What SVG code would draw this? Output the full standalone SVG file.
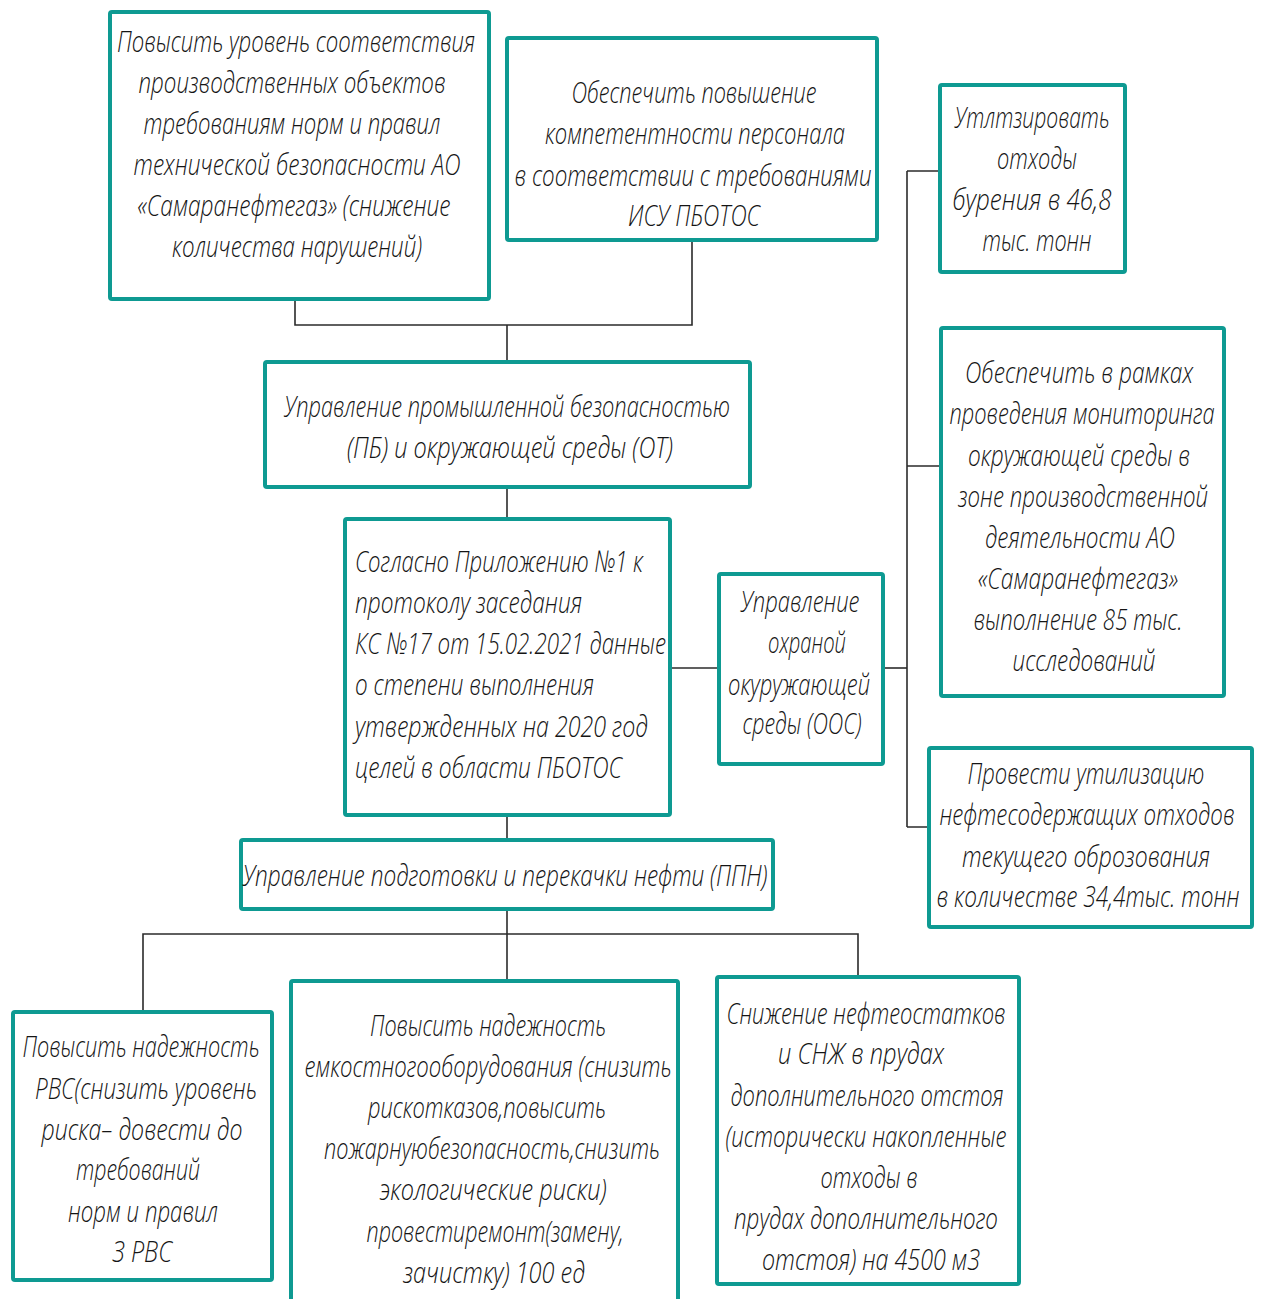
<svg xmlns="http://www.w3.org/2000/svg" width="1261" height="1299" viewBox="0 0 1261 1299">
<style>
.box{fill:#fff;stroke:#0e9a92;stroke-width:4}
.con{fill:none;stroke:#2b2b2b;stroke-width:1.6}
text{font-family:"Open Sans","Liberation Sans",sans-serif;font-weight:300;font-style:italic;font-size:30px;fill:#151515;text-anchor:middle}
text.l{text-anchor:start}
</style>
<rect width="1261" height="1299" fill="#fff"/>
<g id="connectors">
<path class="con" d="M295 301V325H692V242"/>
<path class="con" d="M507 325V360"/>
<path class="con" d="M507 489V517"/>
<path class="con" d="M672 668H717"/>
<path class="con" d="M885 668H907"/>
<path class="con" d="M907 171V827"/>
<path class="con" d="M907 171H938M907 466H939M907 827H927"/>
<path class="con" d="M507 817V838"/>
<path class="con" d="M507 911V979"/>
<path class="con" d="M143 1010V934H858V975"/>
</g>
<g id="nodeA">
<rect class="box" x="110" y="12" width="379" height="287" rx="2"/>
<text x="296" y="52" textLength="358" lengthAdjust="spacingAndGlyphs">Повысить уровень соответствия</text>
<text x="292" y="93" textLength="307" lengthAdjust="spacingAndGlyphs">производственных объектов</text>
<text x="292" y="134" textLength="297" lengthAdjust="spacingAndGlyphs">требованиям норм и правил</text>
<text x="297" y="175" textLength="327" lengthAdjust="spacingAndGlyphs">технической безопасности АО</text>
<text x="294" y="216" textLength="313" lengthAdjust="spacingAndGlyphs">«Самаранефтегаз» (снижение</text>
<text x="297" y="257" textLength="250" lengthAdjust="spacingAndGlyphs">количества нарушений)</text>
</g>
<g id="nodeB">
<rect class="box" x="507" y="38" width="370" height="202" rx="2"/>
<text x="694" y="103" textLength="245" lengthAdjust="spacingAndGlyphs">Обеспечить повышение</text>
<text x="695" y="144" textLength="300" lengthAdjust="spacingAndGlyphs">компетентности персонала</text>
<text x="693" y="186" textLength="357" lengthAdjust="spacingAndGlyphs">в соответствии с требованиями</text>
<text x="694" y="226" textLength="132" lengthAdjust="spacingAndGlyphs">ИСУ ПБОТОС</text>
</g>
<g id="nodeC">
<rect class="box" x="940" y="85" width="185" height="187" rx="2"/>
<text x="1032" y="128" textLength="155" lengthAdjust="spacingAndGlyphs">Утлтзировать</text>
<text x="1037" y="169" textLength="80" lengthAdjust="spacingAndGlyphs">отходы</text>
<text x="1032" y="210" textLength="159" lengthAdjust="spacingAndGlyphs">бурения в 46,8</text>
<text x="1037" y="251" textLength="109" lengthAdjust="spacingAndGlyphs">тыс. тонн</text>
</g>
<g id="nodeD">
<rect class="box" x="941" y="328" width="283" height="368" rx="2"/>
<text x="1079" y="383" textLength="228" lengthAdjust="spacingAndGlyphs">Обеспечить в рамках</text>
<text x="1082" y="424" textLength="265" lengthAdjust="spacingAndGlyphs">проведения мониторинга</text>
<text x="1079" y="466" textLength="222" lengthAdjust="spacingAndGlyphs">окружающей среды в</text>
<text x="1083" y="507" textLength="250" lengthAdjust="spacingAndGlyphs">зоне производственной</text>
<text x="1080" y="548" textLength="190" lengthAdjust="spacingAndGlyphs">деятельности АО</text>
<text x="1078" y="589" textLength="200" lengthAdjust="spacingAndGlyphs">«Самаранефтегаз»</text>
<text x="1078" y="630" textLength="209" lengthAdjust="spacingAndGlyphs">выполнение 85 тыс.</text>
<text x="1084" y="671" textLength="143" lengthAdjust="spacingAndGlyphs">исследований</text>
</g>
<g id="nodeE">
<rect class="box" x="265" y="362" width="485" height="125" rx="2"/>
<text x="507" y="417" textLength="446" lengthAdjust="spacingAndGlyphs">Управление промышленной безопасностью</text>
<text x="510" y="458" textLength="326" lengthAdjust="spacingAndGlyphs">(ПБ) и окружающей среды (ОТ)</text>
</g>
<g id="nodeF">
<rect class="box" x="345" y="519" width="325" height="296" rx="2"/>
<text class="l" x="355" y="572" textLength="288" lengthAdjust="spacingAndGlyphs">Согласно Приложению №1 к</text>
<text class="l" x="355" y="613" textLength="227" lengthAdjust="spacingAndGlyphs">протоколу заседания</text>
<text class="l" x="355" y="654" textLength="311" lengthAdjust="spacingAndGlyphs">КС №17 от 15.02.2021 данные</text>
<text class="l" x="355" y="695" textLength="239" lengthAdjust="spacingAndGlyphs">о степени выполнения</text>
<text class="l" x="355" y="737" textLength="293" lengthAdjust="spacingAndGlyphs">утвержденных на 2020 год</text>
<text class="l" x="355" y="778" textLength="267" lengthAdjust="spacingAndGlyphs">целей в области ПБОТОС</text>
</g>
<g id="nodeG">
<rect class="box" x="719" y="574" width="164" height="190" rx="2"/>
<text x="800" y="612" textLength="119" lengthAdjust="spacingAndGlyphs">Управление</text>
<text x="807" y="653" textLength="78" lengthAdjust="spacingAndGlyphs">охраной</text>
<text x="799" y="695" textLength="142" lengthAdjust="spacingAndGlyphs">окуружающей</text>
<text x="802" y="734" textLength="119" lengthAdjust="spacingAndGlyphs">среды (ООС)</text>
</g>
<g id="nodeH">
<rect class="box" x="929" y="748" width="323" height="179" rx="2"/>
<text x="1086" y="784" textLength="237" lengthAdjust="spacingAndGlyphs">Провести утилизацию</text>
<text x="1087" y="825" textLength="295" lengthAdjust="spacingAndGlyphs">нефтесодержащих отходов</text>
<text x="1086" y="867" textLength="248" lengthAdjust="spacingAndGlyphs">текущего оброзования</text>
<text x="1088" y="907" textLength="303" lengthAdjust="spacingAndGlyphs">в количестве 34,4тыс. тонн</text>
</g>
<g id="nodeI">
<rect class="box" x="241" y="840" width="532" height="69" rx="2"/>
<text x="505" y="886" textLength="525" lengthAdjust="spacingAndGlyphs">Управление подготовки и перекачки нефти (ППН)</text>
</g>
<g id="nodeJ">
<rect class="box" x="13" y="1012" width="259" height="268" rx="2"/>
<text x="141" y="1057" textLength="237" lengthAdjust="spacingAndGlyphs">Повысить надежность</text>
<text x="146" y="1099" textLength="222" lengthAdjust="spacingAndGlyphs">РВС(снизить уровень</text>
<text x="142" y="1140" textLength="201" lengthAdjust="spacingAndGlyphs">риска– довести до</text>
<text x="138" y="1180" textLength="124" lengthAdjust="spacingAndGlyphs">требований</text>
<text x="143" y="1222" textLength="150" lengthAdjust="spacingAndGlyphs">норм и правил</text>
<text x="142" y="1262" textLength="60" lengthAdjust="spacingAndGlyphs">3 РВС</text>
</g>
<g id="nodeK">
<rect class="box" x="291" y="981" width="387" height="330" rx="2"/>
<text x="488" y="1036" textLength="236" lengthAdjust="spacingAndGlyphs">Повысить надежность</text>
<text x="488" y="1077" textLength="367" lengthAdjust="spacingAndGlyphs">емкостногооборудования (снизить</text>
<text x="487" y="1118" textLength="238" lengthAdjust="spacingAndGlyphs">рискотказов,повысить</text>
<text x="492" y="1159" textLength="336" lengthAdjust="spacingAndGlyphs">пожарнуюбезопасность,снизить</text>
<text x="493" y="1200" textLength="227" lengthAdjust="spacingAndGlyphs">экологические риски)</text>
<text x="495" y="1242" textLength="257" lengthAdjust="spacingAndGlyphs">провестиремонт(замену,</text>
<text x="494" y="1283" textLength="182" lengthAdjust="spacingAndGlyphs">зачистку) 100 ед</text>
</g>
<g id="nodeL">
<rect class="box" x="717" y="977" width="302" height="307" rx="2"/>
<text x="866" y="1024" textLength="279" lengthAdjust="spacingAndGlyphs">Снижение нефтеостатков</text>
<text x="861" y="1064" textLength="166" lengthAdjust="spacingAndGlyphs">и СНЖ в прудах</text>
<text x="867" y="1106" textLength="273" lengthAdjust="spacingAndGlyphs">дополнительного отстоя</text>
<text x="866" y="1147" textLength="281" lengthAdjust="spacingAndGlyphs">(исторически накопленные</text>
<text x="869" y="1188" textLength="97" lengthAdjust="spacingAndGlyphs">отходы в</text>
<text x="866" y="1229" textLength="264" lengthAdjust="spacingAndGlyphs">прудах дополнительного</text>
<text x="871" y="1270" textLength="218" lengthAdjust="spacingAndGlyphs">отстоя) на 4500 м3</text>
</g>
</svg>
